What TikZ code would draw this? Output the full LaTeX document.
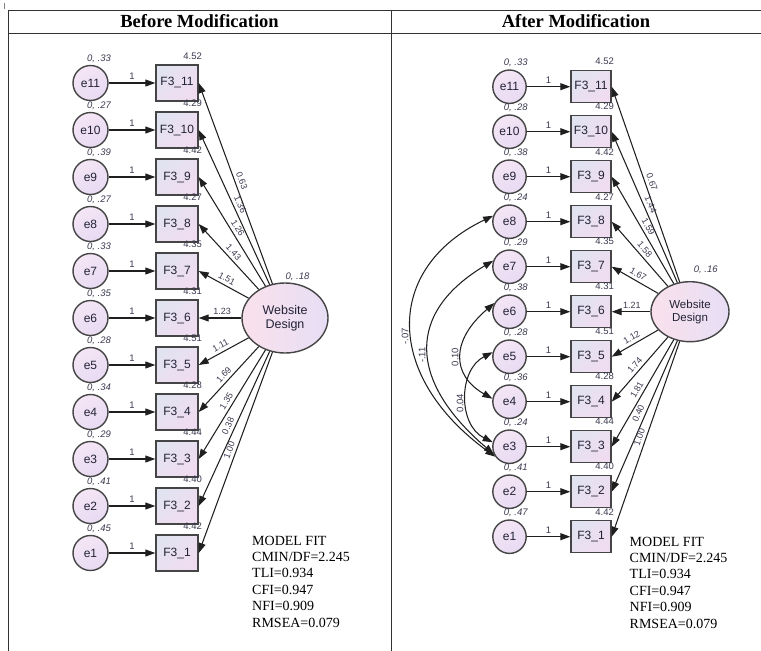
\documentclass[tikz,border=0pt]{standalone}
\usepackage{fontspec}
\setmainfont{Liberation Serif}
\setsansfont{Liberation Sans}
\usetikzlibrary{shapes.geometric, arrows.meta}

\definecolor{nodeline}{HTML}{454545}
\definecolor{boxA}{HTML}{E2E3F0}
\definecolor{boxB}{HTML}{F0DCF0}
\definecolor{cirA}{HTML}{F4E6F5}
\definecolor{cirB}{HTML}{E8DAF2}
\definecolor{ellA}{HTML}{F9E1EC}
\definecolor{ellB}{HTML}{E7DEF5}
\definecolor{txt}{HTML}{222236}
\definecolor{vtxt}{HTML}{3A3A50}
\definecolor{rule}{HTML}{333333}

\begin{document}
\begin{tikzpicture}[x=1pt, y=-1pt,
  conn/.style={draw=black!88, line width=1.05pt, -{Triangle[length=10pt,width=7pt]}},
  cov/.style={draw=black!88, line width=1.05pt, {Triangle[length=10pt,width=7pt]}-{Triangle[length=10pt,width=7pt]}},
  errL/.style={circle, draw=nodeline, line width=1.4pt, inner sep=0pt, minimum size=35pt,
    top color=cirA, bottom color=cirB, shading angle=30, text=txt,
    font=\sffamily\fontsize{12}{12}\selectfont},
  errR/.style={errL, minimum size=33.4pt},
  obsL/.style={rectangle, draw=nodeline, line width=1.4pt, inner sep=0pt,
    minimum width=42pt, minimum height=36pt,
    top color=boxA, bottom color=boxB, shading angle=45, text=txt,
    font=\sffamily\fontsize{12}{12}\selectfont},
  obsR/.style={obsL, minimum width=40pt, minimum height=32pt},
  latL/.style={ellipse, draw=nodeline, line width=1.4pt, inner sep=0pt,
    minimum width=86pt, minimum height=70pt,
    left color=ellA, right color=ellB, text=txt, align=center,
    font=\sffamily\fontsize{12.5}{14}\selectfont},
  latR/.style={latL, minimum width=78pt, minimum height=60pt,
    font=\sffamily\fontsize{11.5}{13}\selectfont},
  vlbl/.style={font=\sffamily\itshape\fontsize{9.5}{10}\selectfont, text=vtxt, inner sep=0.5pt},
  ilbl/.style={font=\sffamily\fontsize{9.5}{10}\selectfont, text=vtxt, inner sep=0.5pt},
  load/.style={ilbl, font=\sffamily\fontsize{9}{10}\selectfont, sloped, above=2.5pt},
  one/.style={ilbl, above=2pt},
  clbl/.style={ilbl, rotate=90},
  head/.style={font=\bfseries\fontsize{18.5}{20}\selectfont, text=black},
  fitline/.style={font=\fontsize{14}{16}\selectfont, text=black, inner sep=0pt, anchor=base west},
  tbl/.style={draw=rule, line width=0.9pt}
]
\useasboundingbox (0,0) rectangle (761,651);
\fill[white] (0,0) rectangle (761,651);

% table frame
\draw[gray, line width=0.6pt] (4.5,3) -- (4.5,9);
\draw[tbl] (8,10) -- (761,10);
\draw[tbl] (8,33) -- (761,33);
\draw[tbl] (8,10) -- (8,651);
\draw[tbl] (391,10) -- (391,651);
\node[head] (hL) at (199.5,21.5) {Before Modification};
\node[head] (hR) at (576,21.5) {After Modification};

% ---------------- before modification ----------------
\node[latL] (LWD) at (285,318) {Website\\Design};
\node[vlbl] (LWDv) at (297.5,277) {0, .18};
\foreach \i/\ev/\ic/\ld/\p in {11/.33/4.52/0.63/0.5, 10/.27/4.29/1.36/0.5, 9/.39/4.42/1.26/0.5,
    8/.27/4.27/1.43/0.5, 7/.33/4.35/1.51/0.5, 6/.35/4.31/1.23/0.45, 5/.28/4.51/1.11/0.5,
    4/.34/4.28/1.69/0.5, 3/.29/4.44/1.35/0.5, 2/.41/4.40/0.38/0.5, 1/.45/4.42/1.00/0.5}{
  \pgfmathsetmacro\yy{83+47*(11-\i)}
  \node[errL] (Le\i) at (90.5,\yy) {e\i};
  \node[obsL] (Lf\i) at (177,\yy) {F3\_\i};
  \draw[conn] (Le\i) -- node[one] (Lo\i) {1} (Lf\i);
  \path (Le\i.center) ++(8.5,-24) node[vlbl] (Lv\i) {0, \ev};
  \path (Lf\i.east) ++(-6,-27) node[ilbl] (Li\i) {\ic};
  \draw[conn] (LWD) -- node[load, pos=\p] (Ll\i) {\ld} (Lf\i.east);
}
\foreach \t [count=\k from 0] in {MODEL FIT, {CMIN/DF=2.245}, TLI=0.934, CFI=0.947, NFI=0.909, RMSEA=0.079}{
  \node[fitline] (mL\k) at (252,{545+16.4*\k}) {\t};
}

% ---------------- after modification ----------------
\node[latR] (RWD) at (690,311.7) {Website\\Design};
\node[vlbl] (RWDv) at (705.8,270) {0, .16};
\foreach \i/\ev/\ic/\ld/\p in {11/.33/4.52/0.67/0.5, 10/.28/4.29/1.44/0.5, 9/.38/4.42/1.59/0.5,
    8/.24/4.27/1.58/0.5, 7/.29/4.35/1.67/0.5, 6/.38/4.31/1.21/0.48, 5/.28/4.51/1.12/0.5,
    4/.36/4.28/1.74/0.5, 3/.24/4.44/1.81/0.5, 2/.41/4.40/0.40/0.5, 1/.47/4.42/1.00/0.5}{
  \pgfmathsetmacro\yy{86.7+45*(11-\i)}
  \node[errR] (Re\i) at (509.5,\yy) {e\i};
  \node[obsR] (Rf\i) at (591,\yy) {F3\_\i};
  \draw[conn] (Re\i) -- node[one] (Ro\i) {1} (Rf\i);
  \path (Re\i.center) ++(6.3,-24) node[vlbl] (Rv\i) {0, \ev};
  \path (Rf\i.east) ++(-7,-25) node[ilbl] (Ri\i) {\ic};
  \draw[conn] (RWD) -- node[load, pos=\p] (Rl\i) {\ld} (Rf\i.east);
}
% error covariances
\draw[cov] (Re8.160) .. controls (384,268) and (384,376) .. (Re3.215);
\draw[cov] (Re7.160) .. controls (407,312) and (407,380) .. (Re3.205);
\draw[cov] (Re6.150) .. controls (451,340) and (451,375) .. (Re4.170);
\draw[cov] (Re5.165) .. controls (458,370) and (458,425) .. (Re3.165);
\node[clbl] (c83) at (405,336) {-.07};
\node[clbl] (c73) at (422,355) {-.11};
\node[clbl] (c64) at (455,357) {0.10};
\node[clbl] (c53) at (460,403) {0.04};
\foreach \t [count=\k from 0] in {MODEL FIT, {CMIN/DF=2.245}, TLI=0.934, CFI=0.947, NFI=0.909, RMSEA=0.079}{
  \node[fitline] (mR\k) at (629.5,{546+16.4*\k}) {\t};
}
\end{tikzpicture}
\end{document}
